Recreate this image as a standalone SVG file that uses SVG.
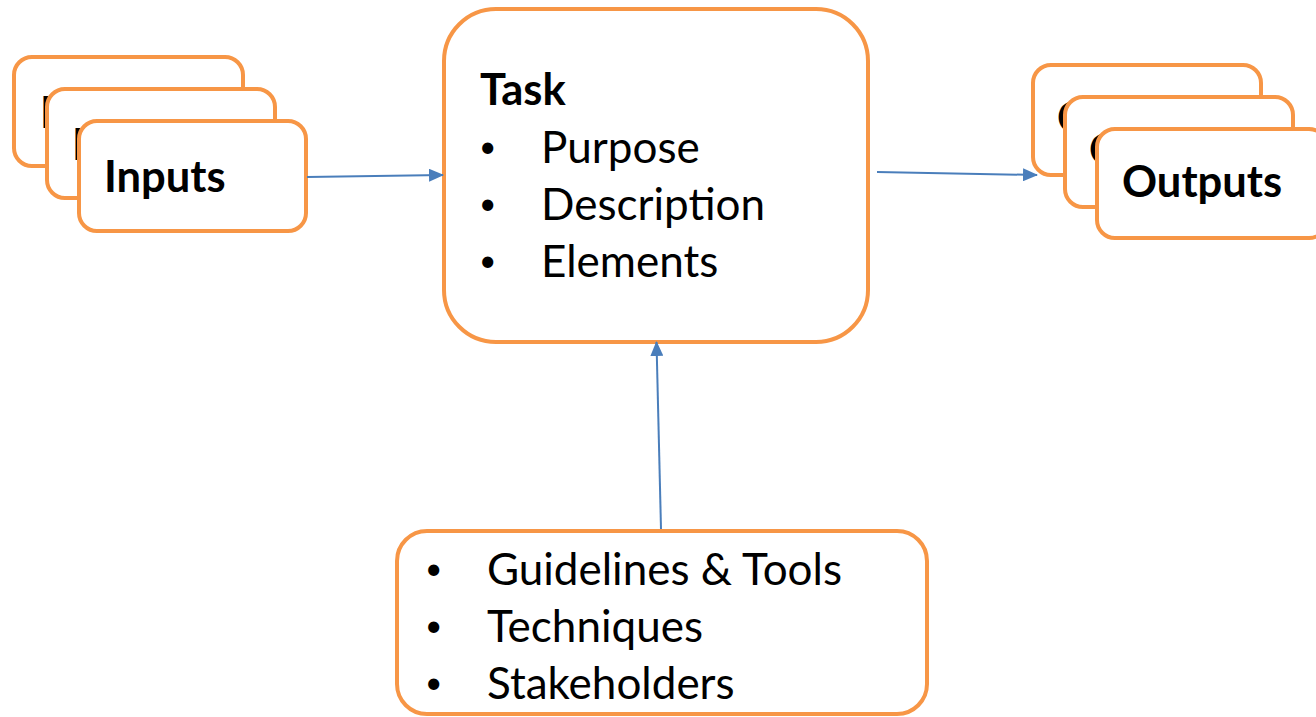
<svg xmlns="http://www.w3.org/2000/svg" width="1316" height="717" viewBox="0 0 1316 717">
<defs>
<style>
.box{fill:#fff;stroke:#F79646;stroke-width:4}
.b{font-family:Lato,"Liberation Sans",sans-serif;font-weight:bold;font-size:43.5px;fill:#000}
.r{font-family:Lato,"Liberation Sans",sans-serif;font-size:44px;fill:#000}
.d{font-family:Lato,"Liberation Sans",sans-serif;font-size:30px;fill:#000}
.con{stroke:#4A7EBB;stroke-width:2;fill:none}
</style>
<marker id="ah" markerWidth="15" markerHeight="13" refX="14" refY="6.5" orient="auto" markerUnits="userSpaceOnUse"><path d="M0,0 L15,6.5 L0,13 Z" fill="#4A7EBB"/></marker>
</defs>
<g id="inputs">
<rect class="box" x="14" y="57" width="229" height="109" rx="18"/>
<text class="b" x="40" y="128">I</text>
<rect class="box" x="47" y="89" width="228" height="109" rx="18"/>
<text class="b" x="72" y="160">I</text>
<rect class="box" x="79" y="121" width="227" height="110" rx="18"/>
<text class="b" x="104" y="192">Inputs</text>
</g>
<g id="outputs">
<rect class="box" x="1033" y="65" width="228" height="110" rx="18"/>
<text class="b" x="1057" y="133">O</text>
<rect class="box" x="1065" y="97" width="228" height="110" rx="18"/>
<text class="b" x="1089" y="165">O</text>
<rect class="box" x="1097" y="129" width="230" height="109" rx="18"/>
<text class="b" x="1122" y="197">Outputs</text>
</g>
<g id="task">
<rect class="box" x="444" y="9" width="424" height="333" rx="52"/>
<text class="b" x="480" y="105">Task</text>
<text class="d" x="479" y="157">•</text><text class="r" x="541" y="163">Purpose</text>
<text class="d" x="479" y="214">•</text><text class="r" x="541" y="220">Description</text>
<text class="d" x="479" y="271">•</text><text class="r" x="541" y="277">Elements</text>
</g>
<g id="resources">
<rect class="box" x="397" y="531" width="530" height="183" rx="30"/>
<text class="d" x="425" y="579">•</text><text class="r" x="487" y="585">Guidelines &amp; Tools</text>
<text class="d" x="425" y="636">•</text><text class="r" x="487" y="642">Techniques</text>
<text class="d" x="425" y="693">•</text><text class="r" x="487" y="699">Stakeholders</text>
</g>
<g id="connectors">
<line class="con" x1="307" y1="177" x2="443" y2="175" marker-end="url(#ah)"/>
<line class="con" x1="877" y1="172" x2="1037" y2="175" marker-end="url(#ah)"/>
<line class="con" x1="661" y1="529" x2="656.5" y2="342" marker-end="url(#ah)"/>
</g>
</svg>
